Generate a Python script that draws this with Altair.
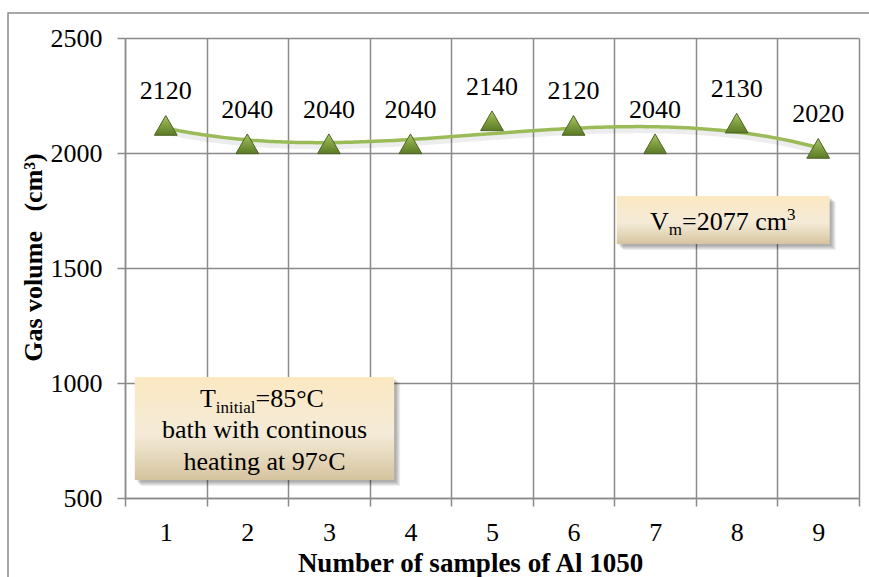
import altair as alt
import pandas as pd

# Gas volume collected for each Al 1050 sample
samples = [1, 2, 3, 4, 5, 6, 7, 8, 9]
volumes = [2120, 2040, 2040, 2040, 2140, 2120, 2040, 2130, 2020]

# Axis tick positions (x grid sits on the category boundaries)
x_ticks = [0.5, 1.5, 2.5, 3.5, 4.5, 5.5, 6.5, 7.5, 8.5, 9.5]
y_ticks = [500, 1000, 1500, 2000, 2500]

# Annotation boxes (data coordinates): mean-volume box and conditions box
box_x0 = [6.53, 0.62]
box_x1 = [9.14, 3.80]
box_y0 = [1813, 1026]
box_y1 = [1604, 578]

mean_volume = round(sum(volumes) / len(volumes))

FONT = "Liberation Serif"
GRID = "#8a8a8a"
NB = "\u00a0"

df = pd.DataFrame({"sample": samples, "volume": volumes})
boxes = pd.DataFrame({"x0": box_x0, "x1": box_x1, "y0": box_y0, "y1": box_y1})
one = pd.DataFrame({"a": [0]})

x_scale = alt.Scale(domain=[0.5, 9.5], nice=False, zero=False)
y_scale = alt.Scale(domain=[500, 2500], nice=False, zero=False)

x_axis = alt.Axis(
    values=x_ticks, grid=True, gridColor=GRID, gridWidth=1.5,
    domainColor=GRID, domainWidth=1.5, tickColor=GRID, tickWidth=1.5, tickSize=8,
    labelExpr="datum.value < 9 ? format(datum.value + 0.5, 'd') : ''",
    labelOffset=40.8, labelPadding=13, labelFont=FONT, labelFontSize=26,
    labelColor="black", labelFlush=False, labelOverlap=False,
    title="Number of samples of Al 1050", titleFont=FONT, titleFontSize=27,
    titleFontWeight="bold", titleColor="black", titleX=345, titleY=73,
    titleBaseline="alphabetic", titleAlign="center",
)
y_axis = alt.Axis(
    values=y_ticks, format="d", grid=True, gridColor=GRID, gridWidth=1.5,
    domainColor=GRID, domainWidth=1.5, tickColor=GRID, tickWidth=1.5, tickSize=8,
    labelPadding=15, labelFont=FONT, labelFontSize=26, labelColor="black",
    labelFlush=False, labelOverlap=False,
    title=f"Gas volume{NB}{NB}{NB}(cm\u00b3)", titleFont=FONT, titleFontSize=26,
    titleFontWeight="bold", titleColor="black", titleX=-92, titleY=219,
    titleBaseline="middle", titleAlign="center", titleAngle=270,
)


def X(field):
    return alt.X(field, type="quantitative", scale=x_scale, axis=x_axis)


def Y(field):
    return alt.Y(field, type="quantitative", scale=y_scale, axis=y_axis)


# Outer chart frame
frame = alt.Chart(one).mark_rect(fill=None, stroke="#8c8c8c", strokeWidth=1.5).encode(
    x=alt.value(-117), x2=alt.value(780), y=alt.value(-25), y2=alt.value(580)
)

# Soft drop shadows under the annotation boxes
shadows = [
    alt.Chart(boxes).mark_rect(
        color="#000000", opacity=0.07, xOffset=k, x2Offset=k, yOffset=k, y2Offset=k
    ).encode(x=X("x0"), x2="x1", y=Y("y0"), y2="y1")
    for k in (2, 3, 4, 5, 6)
]

box_fill = alt.Gradient(
    gradient="linear", x1=0, y1=0, x2=0, y2=1,
    stops=[
        alt.GradientStop(color="#fce8c2", offset=0),
        alt.GradientStop(color="#f4ebd8", offset=0.55),
        alt.GradientStop(color="#d6c49f", offset=1),
    ],
)
box_rects = alt.Chart(boxes).mark_rect(fill=box_fill).encode(
    x=X("x0"), x2="x1", y=Y("y0"), y2="y1"
)

base = alt.Chart(df)

trend_shadow = base.transform_regression(
    "sample", "volume", method="poly", order=3, extent=[1, 9]
).mark_line(color="#000000", opacity=0.07, strokeWidth=5, yOffset=4).encode(
    x=X("sample"), y=Y("volume")
)
trend = base.transform_regression(
    "sample", "volume", method="poly", order=3, extent=[1, 9]
).mark_line(color="#9bbb59", strokeWidth=3.5).encode(x=X("sample"), y=Y("volume"))

marker_fill = alt.Gradient(
    gradient="linear", x1=0, y1=0, x2=0, y2=1,
    stops=[
        alt.GradientStop(color="#a8c766", offset=0),
        alt.GradientStop(color="#7f9f3f", offset=0.5),
        alt.GradientStop(color="#5b7a26", offset=1),
    ],
)
points = base.mark_point(
    shape="triangle-up", size=520, filled=True, fill=marker_fill,
    stroke="#4f6228", strokeWidth=1, opacity=1,
).encode(x=X("sample"), y=Y("volume"))

labels = base.mark_text(
    font=FONT, fontSize=26, color="black", align="center",
    baseline="alphabetic", dy=-26,
).encode(x=X("sample"), y=Y("volume"), text=alt.Text("volume:Q", format="d"))


def piece(x, y, text, dx, dy, size, align="left"):
    return alt.Chart(pd.DataFrame({"px": [x], "py": [y]})).mark_text(
        text=text, font=FONT, fontSize=size, color="black",
        align=align, baseline="alphabetic", dx=dx, dy=dy,
    ).encode(x=X("px"), y=Y("py"))


# Mean volume box text: V_m = ... cm^3
mx, my = 7.82, 1665
mean_text = [
    piece(mx, my, "V", -72, 0, 26),
    piece(mx, my, "m", -53.2, 5, 17),
    piece(mx, my, f"={mean_volume} cm", -40, 0, 26),
    piece(mx, my, "3", 65, -10, 17),
]

# Conditions box text
cx, cy = 2.21, 896
cond_text = [
    piece(cx, cy, "T", -64.5, 0, 26),
    piece(cx, cy, "initial", -48.6, 6, 17),
    piece(cx, cy, "=85\u00b0C", -8.9, 0, 26),
    piece(cx, cy, "bath with continous", 0, 31.5, 26, align="center"),
    piece(cx, cy, "heating at 97\u00b0C", 0, 63, 26, align="center"),
]

chart = alt.layer(
    frame, *shadows, box_rects, trend_shadow, trend, points, labels,
    *mean_text, *cond_text,
).properties(
    width=734, height=460,
    padding={"left": 125, "top": 38, "right": 10, "bottom": 79},
    autosize=alt.AutoSizeParams(type="none"),
    background="white",
).configure_view(stroke=None)

chart.save("out.html", embed_options={"renderer": "svg", "actions": False})
